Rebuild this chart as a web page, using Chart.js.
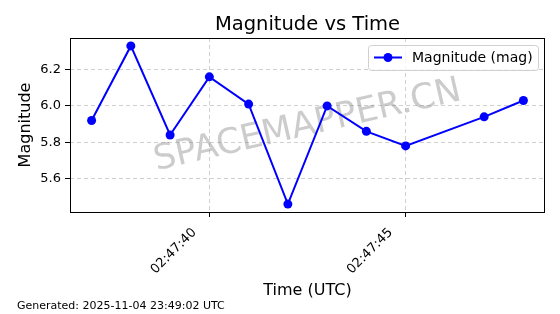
<!DOCTYPE html>
<html>
<head>
<meta charset="utf-8">
<script src="https://cdn.jsdelivr.net/npm/chart.js@4.4.0/dist/chart.umd.min.js"></script>
<style>
  html, body { margin: 0; padding: 0; background: #fff; }
  #wrap { width: 560px; height: 314px; }
</style>
</head>
<body>
<div id="wrap"><canvas id="myChart" width="560" height="314"></canvas></div>
<script>
// seconds after 02:47:00 UTC
const seconds = [37, 38, 39, 40, 41, 42, 43, 44, 45, 47, 48];
const magnitudes = [5.92, 6.33, 5.84, 6.16, 6.01, 5.46, 6.0, 5.86, 5.78, 5.94, 6.03];
const xTicks = [40, 45];
const yTicks = [5.6, 5.8, 6.0, 6.2];

const FONT = "DejaVu Sans";

const points = seconds.map(function (s, i) {
  return { x: s, y: magnitudes[i] };
});

// title, frame, legend, watermark, footer
const extras = {
  id: "extras",
  beforeDatasetsDraw(chart) {
    const { ctx, chartArea } = chart;
    const cx = (chartArea.left + chartArea.right) / 2;
    const cy = (chartArea.top + chartArea.bottom) / 2;
    ctx.save();
    ctx.translate(cx, cy + 1);
    ctx.rotate((-13 * Math.PI) / 180);
    ctx.font = "35px '" + FONT + "'";
    ctx.fillStyle = "rgba(128,128,128,0.4)";
    ctx.textAlign = "center";
    ctx.textBaseline = "middle";
    ctx.fillText("SPACEMAPPER.CN", 0, 0);
    ctx.restore();
  },
  afterDraw(chart) {
    const { ctx, chartArea } = chart;
    const cx = (chartArea.left + chartArea.right) / 2;
    ctx.save();
    // frame
    ctx.strokeStyle = "#000";
    ctx.lineWidth = 1;
    ctx.strokeRect(chartArea.left + 0.5, chartArea.top + 0.5,
      chartArea.right - chartArea.left - 1, chartArea.bottom - chartArea.top);

    ctx.fillStyle = "#000";
    ctx.textAlign = "center";
    ctx.textBaseline = "alphabetic";
    ctx.font = "19.5px '" + FONT + "'";
    ctx.fillText("Magnitude vs Time", cx, 30);

    ctx.font = "16px '" + FONT + "'";
    ctx.fillText("Time (UTC)", cx, 295);

    ctx.save();
    ctx.translate(30, (chartArea.top + chartArea.bottom) / 2);
    ctx.rotate(-Math.PI / 2);
    ctx.fillText("Magnitude", 0, 0);
    ctx.restore();

    ctx.textAlign = "left";
    ctx.font = "11px '" + FONT + "'";
    ctx.fillText("Generated: 2025-11-04 23:49:02 UTC", 17, 309);

    // legend
    const lx = 368, ly = 45, lw = 170, lh = 25;
    ctx.fillStyle = "rgba(255,255,255,0.8)";
    ctx.strokeStyle = "#d0d0d0";
    ctx.beginPath();
    ctx.roundRect(lx + 0.5, ly + 0.5, lw, lh, 3);
    ctx.fill();
    ctx.stroke();
    ctx.strokeStyle = "#0000ff";
    ctx.lineWidth = 2;
    ctx.beginPath();
    ctx.moveTo(374, ly + 12.5);
    ctx.lineTo(402, ly + 12.5);
    ctx.stroke();
    ctx.fillStyle = "#0000ff";
    ctx.beginPath();
    ctx.arc(388, ly + 12.5, 4.5, 0, Math.PI * 2);
    ctx.fill();
    ctx.fillStyle = "#000";
    ctx.font = "14px '" + FONT + "'";
    ctx.textBaseline = "middle";
    ctx.fillText("Magnitude (mag)", 412, ly + 13);
    ctx.restore();
  },
};

Chart.defaults.font.family = FONT;
Chart.defaults.color = "#000";

const gridOpts = {
  color: "rgba(176,176,176,0.6)",
  tickColor: "#000",
  tickBorderDash: [],
  tickLength: 5,
};

const chart = new Chart(document.querySelector("#myChart"), {
  type: "line",
  data: {
    datasets: [
      {
        label: "Magnitude (mag)",
        data: points,
        borderColor: "#0000ff",
        backgroundColor: "#0000ff",
        borderWidth: 2,
        pointRadius: 4.5,
        pointHoverRadius: 4.5,
        pointBorderWidth: 0,
        tension: 0,
      },
    ],
  },
  options: {
    responsive: false,
    animation: false,
    layout: { padding: { top: 38, right: 15, bottom: 0, left: 0 } },
    plugins: {
      legend: { display: false },
      title: { display: false },
      tooltip: { enabled: false },
    },
    scales: {
      x: {
        type: "linear",
        min: 36.45,
        max: 48.55,
        afterBuildTicks(axis) {
          axis.ticks = xTicks.map((v) => ({ value: v }));
        },
        afterFit(axis) {
          axis.height = 102;
        },
        ticks: {
          minRotation: 45,
          maxRotation: 45,
          padding: 8,
          labelOffset: -15,
          font: { size: 13 },
          callback: (v) => "02:47:" + String(v).padStart(2, "0"),
        },
        grid: gridOpts,
        border: { display: false, dash: [4, 3] },
      },
      y: {
        min: 5.4165,
        max: 6.3735,
        afterBuildTicks(axis) {
          axis.ticks = yTicks.map((v) => ({ value: v }));
        },
        afterFit(axis) {
          axis.width = 70;
        },
        ticks: {
          padding: 4,
          font: { size: 13 },
          callback: (v) => v.toFixed(1),
        },
        grid: gridOpts,
        border: { display: false, dash: [4, 3] },
      },
    },
  },
  plugins: [extras],
});
</script>
</body>
</html>
